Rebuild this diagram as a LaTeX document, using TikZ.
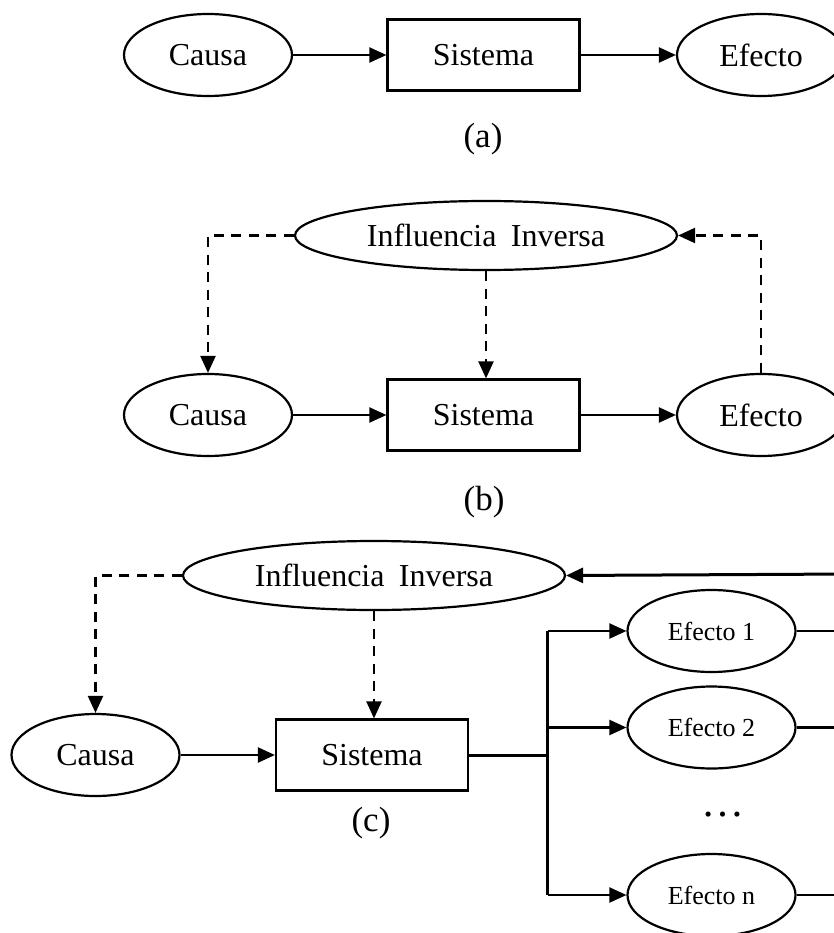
\documentclass[tikz,border=0pt]{standalone}
\usepackage{fontspec}
\setmainfont{Liberation Serif}
\usetikzlibrary{shapes.geometric,arrows.meta}
\begin{document}
\begin{tikzpicture}[x=1pt,y=-1pt,
  every node/.style={font=\fontsize{32}{36}\selectfont},
  oval/.style={draw,ellipse,line width=2.2pt,minimum width=168pt,minimum height=82pt,inner sep=0pt},
  effoval/.style={oval,font=\fontsize{26}{30}\selectfont},
  wideoval/.style={draw,ellipse,line width=2.2pt,minimum width=382pt,minimum height=69pt,inner sep=0pt},
  sysbox/.style={draw,rectangle,line width=2.2pt,minimum width=192pt,minimum height=71pt,inner sep=0pt},
  tag/.style={font=\fontsize{35}{40}\selectfont},
  tip/.style={-{Triangle[length=17pt,width=15pt]}},
  flow/.style={line width=2.2pt,tip},
  fb/.style={flow,dash pattern=on 10pt off 7.5pt},
  bus/.style={line width=3pt},
  plain/.style={line width=2.2pt},
]
\clip (0,0) rectangle (834,933);

% ---- (a) open chain
\node[oval]   (causaa) at (208,55)   {Causa};
\node[sysbox] (sysa)   at (483.5,55) {Sistema};
\node[oval]   (efa)    at (761,55)   {Efecto};
\node[tag]    (laba)   at (483,139)  {(a)};
\draw[flow] (causaa) -- (sysa);
\draw[flow] (sysa) -- (efa);

% ---- (b) chain with inverse influence
\node[wideoval] (infb)   at (486,235.5) {Influencia\hspace{0.45em}Inversa};
\node[oval]     (causab) at (208,415)   {Causa};
\node[sysbox]   (sysb)   at (483.5,415) {Sistema};
\node[oval]     (efb)    at (761,415)   {Efecto};
\node[tag]      (labb)   at (484,502)   {(b)};
\draw[flow] (causab) -- (sysb);
\draw[flow] (sysb) -- (efb);
\draw[fb] (infb.west) -| (causab.north);
\draw[fb] (infb.south) -- (infb.south |- sysb.north);
\draw[fb] (efb.north) |- (infb.east);

% ---- (c) several effects feeding back
\node[wideoval] (infc)   at (374,575.5) {Influencia\hspace{0.45em}Inversa};
\node[oval]     (causac) at (95.5,755)  {Causa};
\node[sysbox]   (sysc)   at (372,755)   {Sistema};
\node[tag]      (labc)   at (371,823)   {(c)};
\node[effoval]  (ef1)    at (711.5,631)   {Efecto 1};
\node[effoval]  (ef2)    at (711.5,727.5) {Efecto 2};
\node[font=\fontsize{43}{48}\selectfont] (dots) at (723,815) {…};
\node[effoval]  (efn)    at (711.5,895)   {Efecto n};

\coordinate (split) at (547.5,755);
\coordinate (v1) at (547.5,631);
\coordinate (v2) at (547.5,727.5);
\coordinate (vn) at (547.5,895);
\coordinate (r1) at (850,631);
\coordinate (r2) at (850,727.5);
\coordinate (rn) at (850,895);
\coordinate (rt) at (850,574);

\draw[flow] (causac) -- (sysc);
\draw[fb] (infc.west) -| (causac.north);
\draw[fb] (infc.south) -- (infc.south |- sysc.north);
\draw[bus] (sysc.east) -- (split);
\draw[bus] (v1) -- (vn);
\draw[flow] (v1) -- (ef1.west);
\draw[flow] (v2) -- (ef2.west);
\draw[flow] (vn) -- (efn.west);
\draw[plain] (ef1.east) -- (r1);
\draw[plain] (ef2.east) -- (r2);
\draw[plain] (efn.east) -- (rn);
\draw[bus,tip] (rt) -- (infc.east);
\end{tikzpicture}
\end{document}
